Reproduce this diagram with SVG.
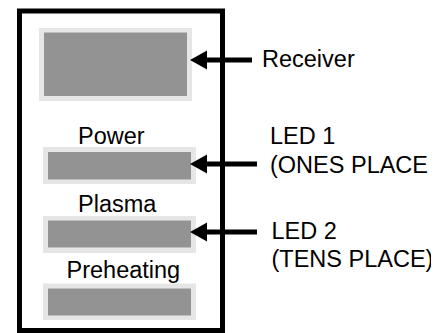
<svg xmlns="http://www.w3.org/2000/svg" width="442" height="333" viewBox="0 0 442 333">
<style>
.lbl{font-family:"Liberation Sans",Arial,sans-serif;font-size:23.5px;fill:#000}
.outer{fill:#e6e6e6}
.inner{fill:#939393}
.wire{stroke:#000;stroke-width:5;fill:none}
</style>
<defs>
<clipPath id="edge"><rect x="0" y="0" width="431" height="333"/></clipPath>
</defs>
<rect width="442" height="333" fill="#fff"/>
<g id="housing"><rect x="19.5" y="11" width="203" height="319.5" fill="none" stroke="#000" stroke-width="5"/></g>
<g id="receiver-display">
<rect class="outer" x="39" y="28" width="153" height="73"/>
<rect class="inner" x="44" y="32.5" width="143" height="63.5"/>
</g>
<g id="power">
<text class="lbl" x="78" y="144">Power</text>
<rect class="outer" x="43" y="147" width="153" height="37"/>
<rect class="inner" x="48" y="152" width="143" height="27.5"/>
</g>
<g id="plasma">
<text class="lbl" x="78" y="211.5">Plasma</text>
<rect class="outer" x="43" y="216" width="153" height="37"/>
<rect class="inner" x="48" y="220.5" width="143" height="27"/>
</g>
<g id="preheating">
<text class="lbl" x="66.5" y="277.5">Preheating</text>
<rect class="outer" x="43" y="283.5" width="153" height="36.5"/>
<rect class="inner" x="48" y="288.5" width="143" height="27"/>
</g>
<g id="receiver-label"><text class="lbl" x="262" y="67">Receiver</text></g>
<g id="led1-label"><text class="lbl" x="270" y="143.5">LED 1</text><text class="lbl" x="270" y="172.5">(ONES PLACE</text></g>
<g id="led2-label" clip-path="url(#edge)"><text class="lbl" x="271.5" y="239">LED 2</text><text class="lbl" x="271.5" y="267">(TENS PLACE)</text></g>
<g id="connectors">
<line class="wire" x1="252" y1="60" x2="204" y2="60"/>
<polygon points="190,60 207,50.5 207,69.5"/>
<line class="wire" x1="257" y1="164" x2="204" y2="164"/>
<polygon points="190,164 207,154.5 207,173.5"/>
<line class="wire" x1="257" y1="232" x2="204" y2="232"/>
<polygon points="190,232 207,222.5 207,241.5"/>
</g>
</svg>
